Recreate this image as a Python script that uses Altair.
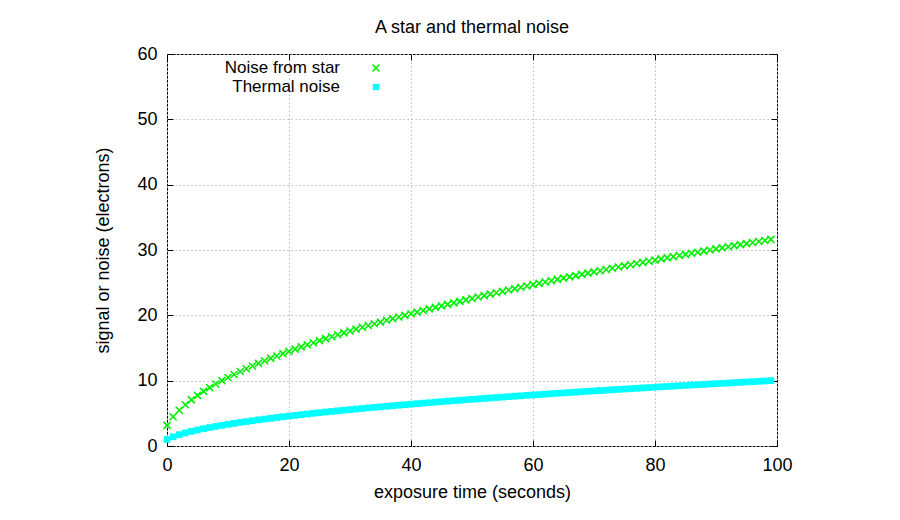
import altair as alt
import pandas as pd

# ---- data ----
time_s = list(range(0, 100))
star_noise = [
    3.16, 4.47, 5.48, 6.32, 7.07, 7.75, 8.37, 8.94, 9.49, 10.00,
    10.49, 10.95, 11.40, 11.83, 12.25, 12.65, 13.04, 13.42, 13.78, 14.14,
    14.49, 14.83, 15.17, 15.49, 15.81, 16.12, 16.43, 16.73, 17.03, 17.32,
    17.61, 17.89, 18.17, 18.44, 18.71, 18.97, 19.24, 19.49, 19.75, 20.00,
    20.25, 20.49, 20.74, 20.98, 21.21, 21.45, 21.68, 21.91, 22.14, 22.36,
    22.58, 22.80, 23.02, 23.24, 23.45, 23.66, 23.87, 24.08, 24.29, 24.49,
    24.70, 24.90, 25.10, 25.30, 25.50, 25.69, 25.88, 26.08, 26.27, 26.46,
    26.65, 26.83, 27.02, 27.20, 27.39, 27.57, 27.75, 27.93, 28.11, 28.28,
    28.46, 28.64, 28.81, 28.98, 29.15, 29.33, 29.50, 29.66, 29.83, 30.00,
    30.17, 30.33, 30.50, 30.66, 30.82, 30.98, 31.14, 31.30, 31.46, 31.62,
]
thermal_noise = [
    1.00, 1.41, 1.73, 2.00, 2.24, 2.45, 2.65, 2.83, 3.00, 3.16,
    3.32, 3.46, 3.61, 3.74, 3.87, 4.00, 4.12, 4.24, 4.36, 4.47,
    4.58, 4.69, 4.80, 4.90, 5.00, 5.10, 5.20, 5.29, 5.39, 5.48,
    5.57, 5.66, 5.74, 5.83, 5.92, 6.00, 6.08, 6.16, 6.24, 6.32,
    6.40, 6.48, 6.56, 6.63, 6.71, 6.78, 6.86, 6.93, 7.00, 7.07,
    7.14, 7.21, 7.28, 7.35, 7.42, 7.48, 7.55, 7.62, 7.68, 7.75,
    7.81, 7.87, 7.94, 8.00, 8.06, 8.12, 8.19, 8.25, 8.31, 8.37,
    8.43, 8.49, 8.54, 8.60, 8.66, 8.72, 8.77, 8.83, 8.89, 8.94,
    9.00, 9.06, 9.11, 9.17, 9.22, 9.27, 9.33, 9.38, 9.43, 9.49,
    9.54, 9.59, 9.64, 9.70, 9.75, 9.80, 9.85, 9.90, 9.95, 10.00,
]
legend_labels = ["Noise from star", "Thermal noise"]
x_ticks = [0, 20, 40, 60, 80, 100]
y_ticks = [0, 10, 20, 30, 40, 50, 60]

# ---- styling ----
W, H = 610, 392
LEFT, TOP = 167, 54
FONT = "Liberation Sans"
FS = 18
LFS = 17
GREEN = "#00ee00"
CYAN = "#00ffff"
XSHAPE = "M-1,-1L1,1M-1,1L1,-1"

star_df = pd.DataFrame({"t": time_s, "v": star_noise})
therm_df = pd.DataFrame({"t": time_s, "v": thermal_noise})
one = pd.DataFrame({"k": [0]})

xs = alt.Scale(domain=[0, 100], nice=False, zero=False)
ys = alt.Scale(domain=[0, 60], nice=False)

grid_kw = dict(grid=True, gridColor="#bcbcbc", gridDash=[1.5, 2.5], gridWidth=1)
lab_kw = dict(labelFont=FONT, labelFontSize=FS, labelColor="black",
              titleFont=FONT, titleFontSize=FS, titleColor="black",
              titleFontWeight="normal", domain=False, labelFlush=False)

star = alt.Chart(star_df).mark_point(
    shape=XSHAPE, size=49, strokeWidth=1.6, color=GREEN, filled=False, opacity=1
).encode(
    x=alt.X("t:Q", scale=xs, axis=alt.Axis(
        orient="bottom", values=x_ticks, title="exposure time (seconds)",
        tickSize=0, labelPadding=10, titlePadding=9, **grid_kw, **lab_kw)),
    y=alt.Y("v:Q", scale=ys, axis=alt.Axis(
        orient="left", values=y_ticks, title="signal or noise (electrons)",
        tickSize=0, labelPadding=10, titlePadding=24, **grid_kw, **lab_kw)),
)

therm = alt.Chart(therm_df).mark_point(
    shape="square", size=45, filled=True, color=CYAN, opacity=1
).encode(
    x=alt.X("t:Q", scale=xs, axis=None),
    y=alt.Y("v:Q", scale=ys, axis=None),
)

tick_kw = dict(labels=False, domain=False, grid=False, ticks=True,
               tickSize=6, tickColor="black", tickWidth=1, title=None)

ticksA = alt.Chart(star_df).mark_point(opacity=0).encode(
    x=alt.X("t:Q", scale=xs, axis=alt.Axis(orient="top", offset=-H, values=x_ticks, **tick_kw)),
    y=alt.Y("v:Q", scale=ys, axis=alt.Axis(orient="right", offset=-W, values=y_ticks, **tick_kw)),
)
ticksB = alt.Chart(star_df).mark_point(opacity=0).encode(
    x=alt.X("t:Q", scale=xs, axis=alt.Axis(orient="bottom", offset=-H, values=x_ticks, **tick_kw)),
    y=alt.Y("v:Q", scale=ys, axis=alt.Axis(orient="left", offset=-W, values=y_ticks, **tick_kw)),
)

leg_text_x = 173
leg_sym_x = 209
leg_y = [14, 33]

leg1 = alt.Chart(one).mark_text(
    align="right", baseline="middle", font=FONT, fontSize=LFS, color="black"
).encode(x=alt.value(leg_text_x), y=alt.value(leg_y[0]), text=alt.value(legend_labels[0]))
leg2 = alt.Chart(one).mark_text(
    align="right", baseline="middle", font=FONT, fontSize=LFS, color="black"
).encode(x=alt.value(leg_text_x), y=alt.value(leg_y[1]), text=alt.value(legend_labels[1]))
sym1 = alt.Chart(one).mark_point(
    shape=XSHAPE, size=49, strokeWidth=1.6, color=GREEN, filled=False, opacity=1
).encode(x=alt.value(leg_sym_x), y=alt.value(leg_y[0]))
sym2 = alt.Chart(one).mark_point(
    shape="square", size=40, filled=True, color=CYAN, opacity=1
).encode(x=alt.value(leg_sym_x), y=alt.value(leg_y[1]))

chart = alt.layer(star, therm, ticksA, ticksB, leg1, leg2, sym1, sym2).resolve_axis(
    x="independent", y="independent"
).properties(
    width=W, height=H,
    title=alt.TitleParams("A star and thermal noise", font=FONT, fontSize=FS,
                          fontWeight="normal", color="black", anchor="middle", offset=8),
    autosize=alt.AutoSizeParams(type="none"),
    padding={"left": LEFT, "top": TOP, "right": 900 - LEFT - W, "bottom": 520 - TOP - H},
    background="white",
).configure_view(stroke="black", strokeWidth=1)

chart.save("out.html", embed_options={"renderer": "svg", "actions": False})
